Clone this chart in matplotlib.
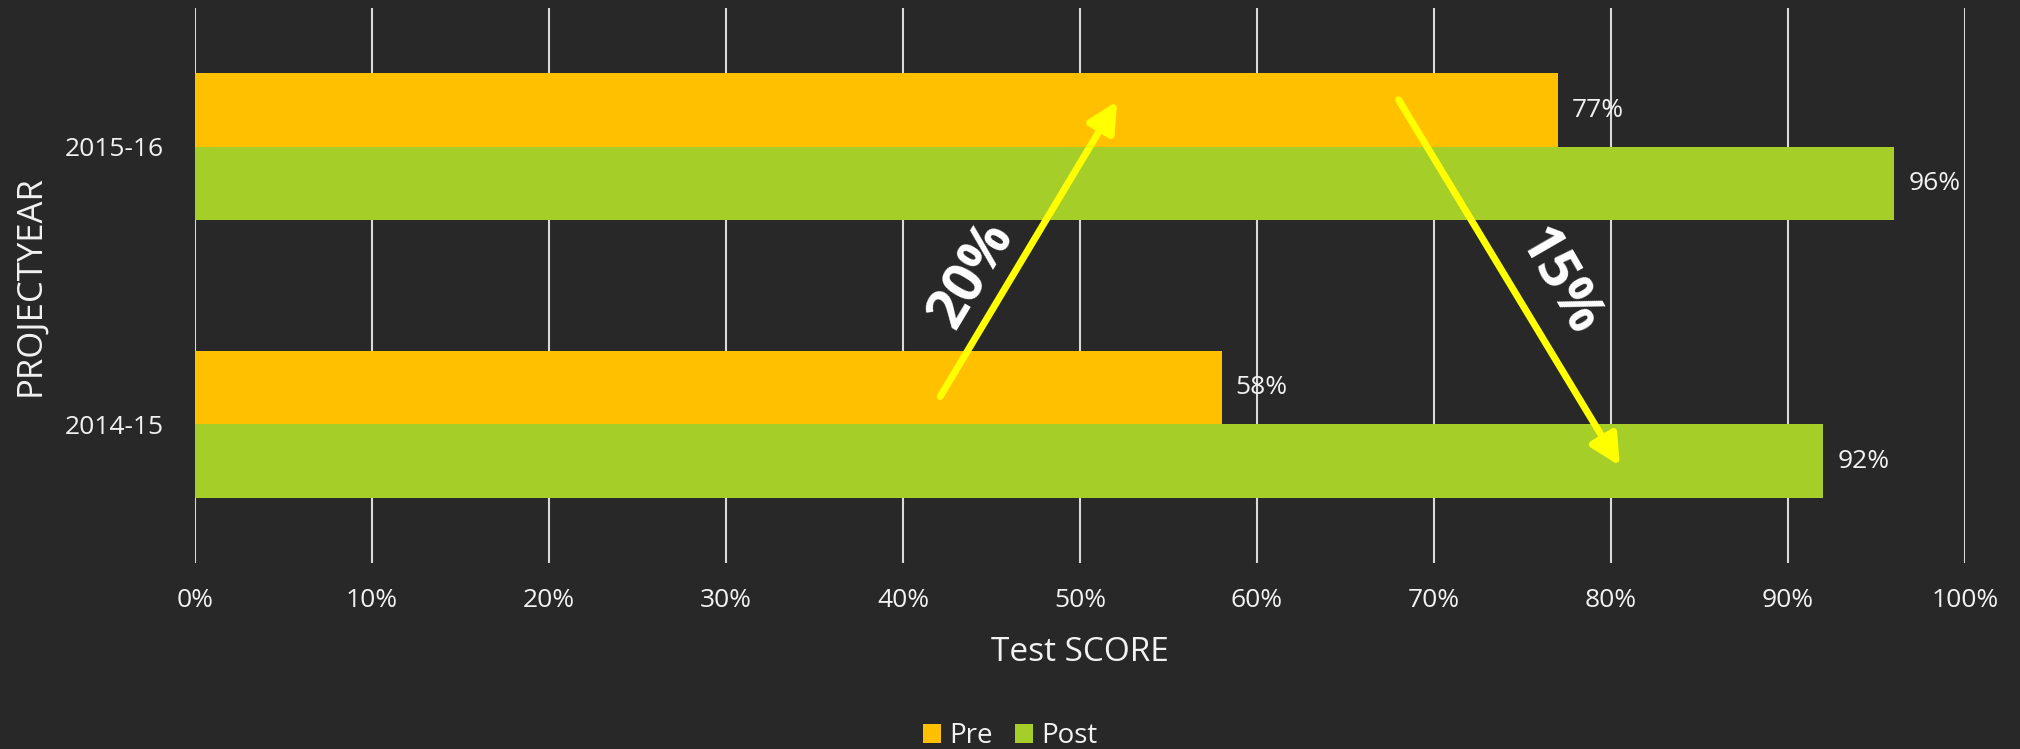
import matplotlib
matplotlib.use('Agg')
import numpy as np
import matplotlib.pyplot as plt

# data
years = ['2014-15', '2015-16']
pre = [58, 77]
post = [92, 96]
series_names = ['Pre', 'Post']

# change arrows (x in %, y in category units) and their labels
arrow_up = [(42.1, 0.10), (52.1, 1.165)]
arrow_down = [(68.0, 1.17), (80.5, -0.15)]
label_up = ('20%', 43.9, 0.54, 59)
label_down = ('15%', 77.0, 0.51, -60)

BG = '#282828'
PRE_C = '#FFC000'
POST_C = '#A6CE28'
TXT = '#F2F2F2'

plt.rcParams['font.family'] = ['Open Sans', 'DejaVu Sans']

fig = plt.figure(figsize=(20.2, 7.49), dpi=100, facecolor=BG)
ax = fig.add_axes([0.0965, 0.2483, 0.8763, 0.7407])
ax.set_facecolor(BG)

y = np.arange(len(years))
h = 0.265
b1 = ax.barh(y + h / 2, pre, height=h, color=PRE_C, label=series_names[0], zorder=3)
b2 = ax.barh(y - h / 2, post, height=h, color=POST_C, label=series_names[1], zorder=3)

for bars in (b1, b2):
    ax.bar_label(bars, labels=[f'{v}%' for v in bars.datavalues], padding=10,
                 color=TXT, fontsize=19)

ax.set_xlim(0, 100)
ax.set_ylim(-0.5, 1.5)
ax.set_xticks(np.arange(0, 101, 10))
ax.set_xticklabels([f'{v}%' for v in range(0, 101, 10)])
ax.set_yticks(y)
ax.set_yticklabels(years)
ax.tick_params(axis='both', length=0, colors=TXT, labelsize=19)
ax.tick_params(axis='x', pad=18)
ax.tick_params(axis='y', pad=22)
ax.grid(axis='x', color='#D9D9D9', linewidth=1.5, zorder=0)
ax.set_axisbelow(True)
for s in ax.spines.values():
    s.set_visible(False)

ax.set_xlabel('Test SCORE', color=TXT, fontsize=24)
ax.xaxis.set_label_coords(0.5, -0.162)
ax.xaxis.label.set_va('center')
ax.set_ylabel('PROJECTYEAR', color=TXT, fontsize=25)
ax.yaxis.set_label_coords(-0.093, 0.5)
ax.yaxis.label.set_va('center')

# arrows and change labels
for (tail, head) in (arrow_up, arrow_down):
    ax.annotate('', xy=head, xytext=tail,
                arrowprops=dict(arrowstyle='-|>,head_length=0.9,head_width=0.45',
                                color='#FFFF00', lw=5, mutation_scale=20,
                                shrinkA=0, shrinkB=0), zorder=5)
for txt, tx, ty, rot in (label_up, label_down):
    ax.text(tx, ty, txt, rotation=rot, rotation_mode='anchor', ha='center', va='center',
            color='white', fontsize=40, fontweight='bold', zorder=6)

leg = fig.legend(loc='center', bbox_to_anchor=(0.5, 0.017), ncol=2, frameon=False,
                 fontsize=20, handlelength=0.65, handleheight=0.65, handletextpad=0.3,
                 columnspacing=0.8)
for t in leg.get_texts():
    t.set_color(TXT)

fig.savefig('out.png', dpi=100, facecolor=BG)
